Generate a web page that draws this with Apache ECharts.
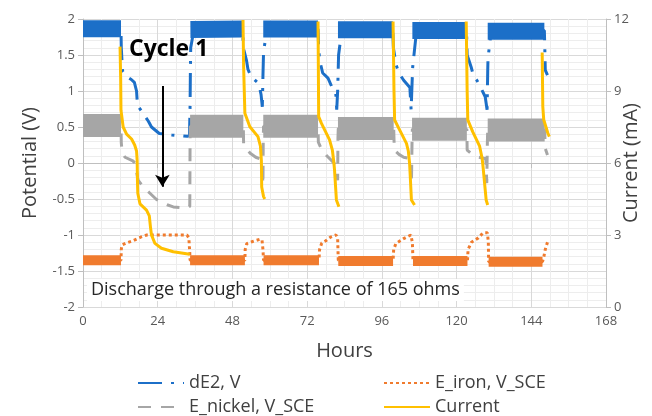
<!DOCTYPE html>
<html>
<head>
<meta charset="utf-8">
<script src="https://cdn.jsdelivr.net/npm/echarts@6/dist/echarts.min.js"></script>
<style>
html,body{margin:0;padding:0;background:#fff;}
#chart{width:652px;height:416px;}
</style>
</head>
<body>
<div id="chart"></div>
<script>
// hours, volts (thin trace through the transitions)
var dE2Line = [[0,1.86],[12.2,1.86],[12.3,1.6],[12.7,1.28],[14,1.2],[15.5,1.16],[16.5,1.12],[17.2,1.0],[17.5,0.8],[19.3,0.69],[21,0.58],[22,0.5],[24.5,0.41],[28.5,0.39],[33.5,0.37],[34.2,0.38],[34.4,0.8],[34.5,1.3],[34.6,1.6],
  [35.5,1.82],[51.3,1.86],[51.5,1.6],[52.5,1.43],[53,1.3],[54,1.2],[56.5,1.1],[57.2,0.95],[57.6,0.78],[57.8,1.2],[58,1.55],
  [59,1.82],[75.5,1.86],[75.7,1.6],[76,1.43],[77,1.25],[78.7,1.18],[80,1.05],[81.2,0.97],[81.5,0.74],[81.8,1.0],[82,1.33],[82.1,1.5],
  [83,1.8],[99.5,1.85],[99.7,1.6],[100.6,1.36],[101.5,1.25],[103,1.15],[105,1.05],[105.4,0.74],[105.7,1.1],[105.9,1.33],
  [107,1.78],[123.2,1.84],[123.4,1.5],[124.7,1.33],[125.5,1.2],[126.5,1.15],[127.4,1.08],[129.2,0.92],[129.8,0.74],[130,1.26],[130.1,1.46],
  [131,1.78],[148.2,1.84],[148.3,1.68],[148.5,1.29],[149.2,1.22]];
// noisy plateaus (centre of the band)
var dE2Band = [[0,1.865],[12.2,1.865],[20,null],[34.5,1.855],[51.3,1.86],[54,null],[57.9,1.86],[75.5,1.86],[78,null],[81.9,1.85],[99.5,1.85],[102,null],[105.8,1.84],[123.2,1.84],[126,null],[130,1.83],[148.2,1.83]];

var ironLine = [[0,-1.35],[12.2,-1.35],[12.3,-1.2],[12.5,-1.14],[14,-1.11],[16,-1.08],[18.5,-1.03],[20.5,-1.0],[33.4,-1.0],[34,-1.04],[34.3,-1.25],[34.4,-1.35],
  [52,-1.35],[52.1,-1.2],[52.6,-1.12],[54.5,-1.09],[56.8,-1.06],[57.5,-1.07],[57.8,-1.2],[58,-1.35],
  [75.8,-1.35],[76,-1.2],[76.7,-1.11],[78,-1.08],[79.5,-1.03],[81.3,-1.0],[81.8,-1.05],[82,-1.35],
  [99.6,-1.36],[99.8,-1.2],[100.5,-1.12],[103,-1.05],[105.3,-1.0],[105.8,-1.1],[106,-1.36],
  [123.5,-1.36],[123.7,-1.2],[124.8,-1.1],[127,-1.04],[128.5,-0.97],[129.9,-0.97],[130.2,-1.1],[130.3,-1.37],
  [147.6,-1.37],[148,-1.31],[148.5,-1.2],[149.2,-1.1]];
var ironBand = [[0,-1.35],[12.2,-1.35],[20,null],[34.4,-1.35],[52,-1.35],[55,null],[58,-1.35],[75.8,-1.35],[78,null],[82,-1.36],[99.6,-1.36],[102,null],[106,-1.36],[123.5,-1.36],[126,null],[130.3,-1.37],[147.6,-1.37]];

var nickelLine = [[0,0.52],[12.2,0.52],[12.3,0.28],[12.6,0.14],[13.5,0.08],[16,0.03],[16.7,0],[17.7,-0.24],[19.5,-0.34],[21.5,-0.42],[23.7,-0.51],[27,-0.58],[29,-0.61],[33.4,-0.63],[34.3,-0.6],[34.4,0.35],
  [34.5,0.51],[51.5,0.51],[51.6,0.25],[53.6,0.14],[55.5,0.08],[57.2,0.05],[57.6,-0.1],[57.8,-0.3],[57.9,0.35],
  [58,0.51],[75.5,0.51],[75.6,0.29],[76.7,0.18],[78.3,0.1],[80.2,0.02],[81.5,-0.05],[81.8,-0.24],[81.9,0.35],
  [82,0.48],[99.8,0.48],[100,0.18],[101.5,0.12],[103,0.08],[105.2,0.06],[105.5,-0.28],[105.7,0.3],
  [105.8,0.47],[123.3,0.47],[123.4,0.18],[125,0.12],[127,0.08],[129.4,0.06],[129.7,-0.28],[129.9,0.3],
  [130,0.46],[148.3,0.46],[148.5,0.2],[149.2,0.11]];
var nickelBand = [[0,0.52],[12.2,0.52],[20,null],[34.4,0.51],[51.5,0.51],[54,null],[57.9,0.51],[75.5,0.51],[78,null],[81.9,0.48],[99.8,0.48],[102,null],[105.7,0.47],[123.3,0.47],[126,null],[130,0.46],[148.3,0.46]];

// hours, mA (secondary axis)
var currentLine = [[11.9,10.85],[12.1,9.5],[12.2,8.2],[12.9,7.5],[14,7.2],[15.6,7.0],[16.6,6.75],[17.2,6.5],[17.4,6.1],[17.5,5.2],[17.6,4.74],[18.3,4.3],[20.4,4.04],[21.3,3.8],[21.7,3.3],[22,3.0],[23.1,2.65],[25.2,2.45],[29,2.3],[34.3,2.2],
  [40,null],
  [51.4,11.96],[51.6,10],[52.0,8.07],[53.6,7.51],[56.2,7.1],[57.0,6.7],[57.3,6.1],[57.4,5.0],[58.0,4.6],[58.4,4.5],
  [65,null],
  [75.5,11.9],[75.6,10],[75.7,7.93],[76.6,7.65],[79.2,6.96],[80.1,6.54],[80.6,6.0],[80.8,5.7],[81.4,4.46],[82.2,4.18],
  [90,null],
  [99.6,11.9],[99.9,9],[100.1,7.79],[101.7,7.38],[103.9,6.82],[104.5,6.5],[104.9,6.0],[105.1,5.5],[105.5,4.46],[106.5,4.25],
  [115,null],
  [123.1,11.9],[123.4,9],[123.6,7.8],[125.2,7.3],[127.4,6.7],[128.2,6.2],[128.5,5.85],[129.5,4.46],[130,4.25],
  [140,null],
  [147.5,10.6],[147.7,8.35],[148.0,7.8],[149.3,7.25],[149.8,7.1]];

var seriesNames = ['dE2, V', 'E_iron, V_SCE', 'E_nickel, V_SCE', 'Current'];
var colors = ['#1c6fc8', '#f07b2e', '#a6a6a6', '#ffc000'];

var font = '"Open Sans", "Liberation Sans", sans-serif';
var chart = echarts.init(document.getElementById('chart'));

var legendPos = [[132, 369], [378, 369], [132, 393], [378, 393]];
var legends = seriesNames.map(function (n, i) {
    return {
        data: [n],
        left: legendPos[i][0],
        top: legendPos[i][1],
        itemWidth: 46,
        itemHeight: 14,
        itemStyle: {opacity: 0},
        textStyle: {fontFamily: font, fontSize: 18, color: '#404040'}
    };
});

var option = {
    animation: false,
    textStyle: {fontFamily: font},
    grid: {left: 83, right: 46, top: 19, bottom: 109, outerBoundsMode: 'none'},
    legend: legends,
    xAxis: {
        type: 'value', min: 0, max: 168, interval: 24,
        name: 'Hours', nameLocation: 'middle', nameGap: 34,
        nameTextStyle: {fontSize: 20, color: '#404040'},
        axisLine: {lineStyle: {color: '#bfbfbf'}},
        axisTick: {show: true, length: 5, lineStyle: {color: '#bfbfbf'}},
        axisLabel: {color: '#595959', fontSize: 13, margin: 8},
        splitLine: {lineStyle: {color: '#d9d9d9'}},
        minorTick: {show: false, splitNumber: 4},
        minorSplitLine: {show: true, lineStyle: {color: '#ededed'}}
    },
    yAxis: [{
        type: 'value', min: -2, max: 2, interval: 0.5,
        name: 'Potential (V)', nameLocation: 'middle', nameGap: 43,
        nameTextStyle: {fontSize: 20, color: '#404040'},
        axisLine: {show: true, lineStyle: {color: '#bfbfbf'}},
        axisTick: {show: true, length: 5, lineStyle: {color: '#bfbfbf'}},
        axisLabel: {color: '#595959', fontSize: 13, margin: 8},
        splitLine: {lineStyle: {color: '#d9d9d9'}},
        minorTick: {show: false, splitNumber: 5},
        minorSplitLine: {show: true, lineStyle: {color: '#ededed'}}
    }, {
        type: 'value', min: 0, max: 12, interval: 3, position: 'right',
        name: 'Current (mA)', nameLocation: 'middle', nameGap: 15, nameRotate: 90,
        nameMoveOverlap: false,
        nameTextStyle: {fontSize: 20, color: '#404040'},
        axisLine: {show: true, lineStyle: {color: '#bfbfbf'}},
        axisTick: {show: true, length: 5, lineStyle: {color: '#bfbfbf'}},
        axisLabel: {color: '#595959', fontSize: 13, margin: 8},
        splitLine: {show: false}
    }],
    series: [{
        name: seriesNames[0], type: 'line', data: dE2Line, symbol: 'none', silent: true,
        lineStyle: {color: colors[0], width: 3, type: [24, 9, 3, 9]},
        itemStyle: {color: colors[0]},
        markLine: {
            silent: true, symbol: ['none', 'arrow'], symbolSize: [11, 12],
            label: {show: false},
            lineStyle: {color: '#000', width: 2, type: 'solid'},
            data: [[{coord: [25.5, 1.07]}, {coord: [25.5, -0.33]}]]
        }
    }, {
        name: 'dE2 band', type: 'line', data: dE2Band, symbol: 'none', silent: true,
        lineStyle: {color: colors[0], width: 17, cap: 'butt'}
    }, {
        name: seriesNames[1], type: 'line', data: ironLine, symbol: 'none', silent: true,
        lineStyle: {color: colors[1], width: 3, type: [3, 3]},
        itemStyle: {color: colors[1]}
    }, {
        name: 'iron band', type: 'line', data: ironBand, symbol: 'none', silent: true,
        lineStyle: {color: colors[1], width: 10, cap: 'butt'}
    }, {
        name: seriesNames[2], type: 'line', data: nickelLine, symbol: 'none', silent: true,
        lineStyle: {color: colors[2], width: 3, type: [13, 10]},
        itemStyle: {color: colors[2]}
    }, {
        name: 'nickel band', type: 'line', data: nickelBand, symbol: 'none', silent: true,
        lineStyle: {color: colors[2], width: 23, cap: 'butt'}
    }, {
        name: seriesNames[3], type: 'line', yAxisIndex: 1, data: currentLine, symbol: 'none', silent: true,
        lineStyle: {color: colors[3], width: 3},
        itemStyle: {color: colors[3]}
    }],
    graphic: [{
        type: 'text', left: 129, top: 38, z: 100,
        style: {text: 'Cycle 1', font: 'bold 23px ' + font, fill: '#000'}
    }, {
        type: 'text', left: 87, top: 279, z: 100,
        style: {text: 'Discharge through a resistance of 165 ohms', font: '18px ' + font, fill: '#262626',
            backgroundColor: '#fff', padding: [2, 4, 2, 4]}
    }]
};
chart.setOption(option);
</script>
</body>
</html>
